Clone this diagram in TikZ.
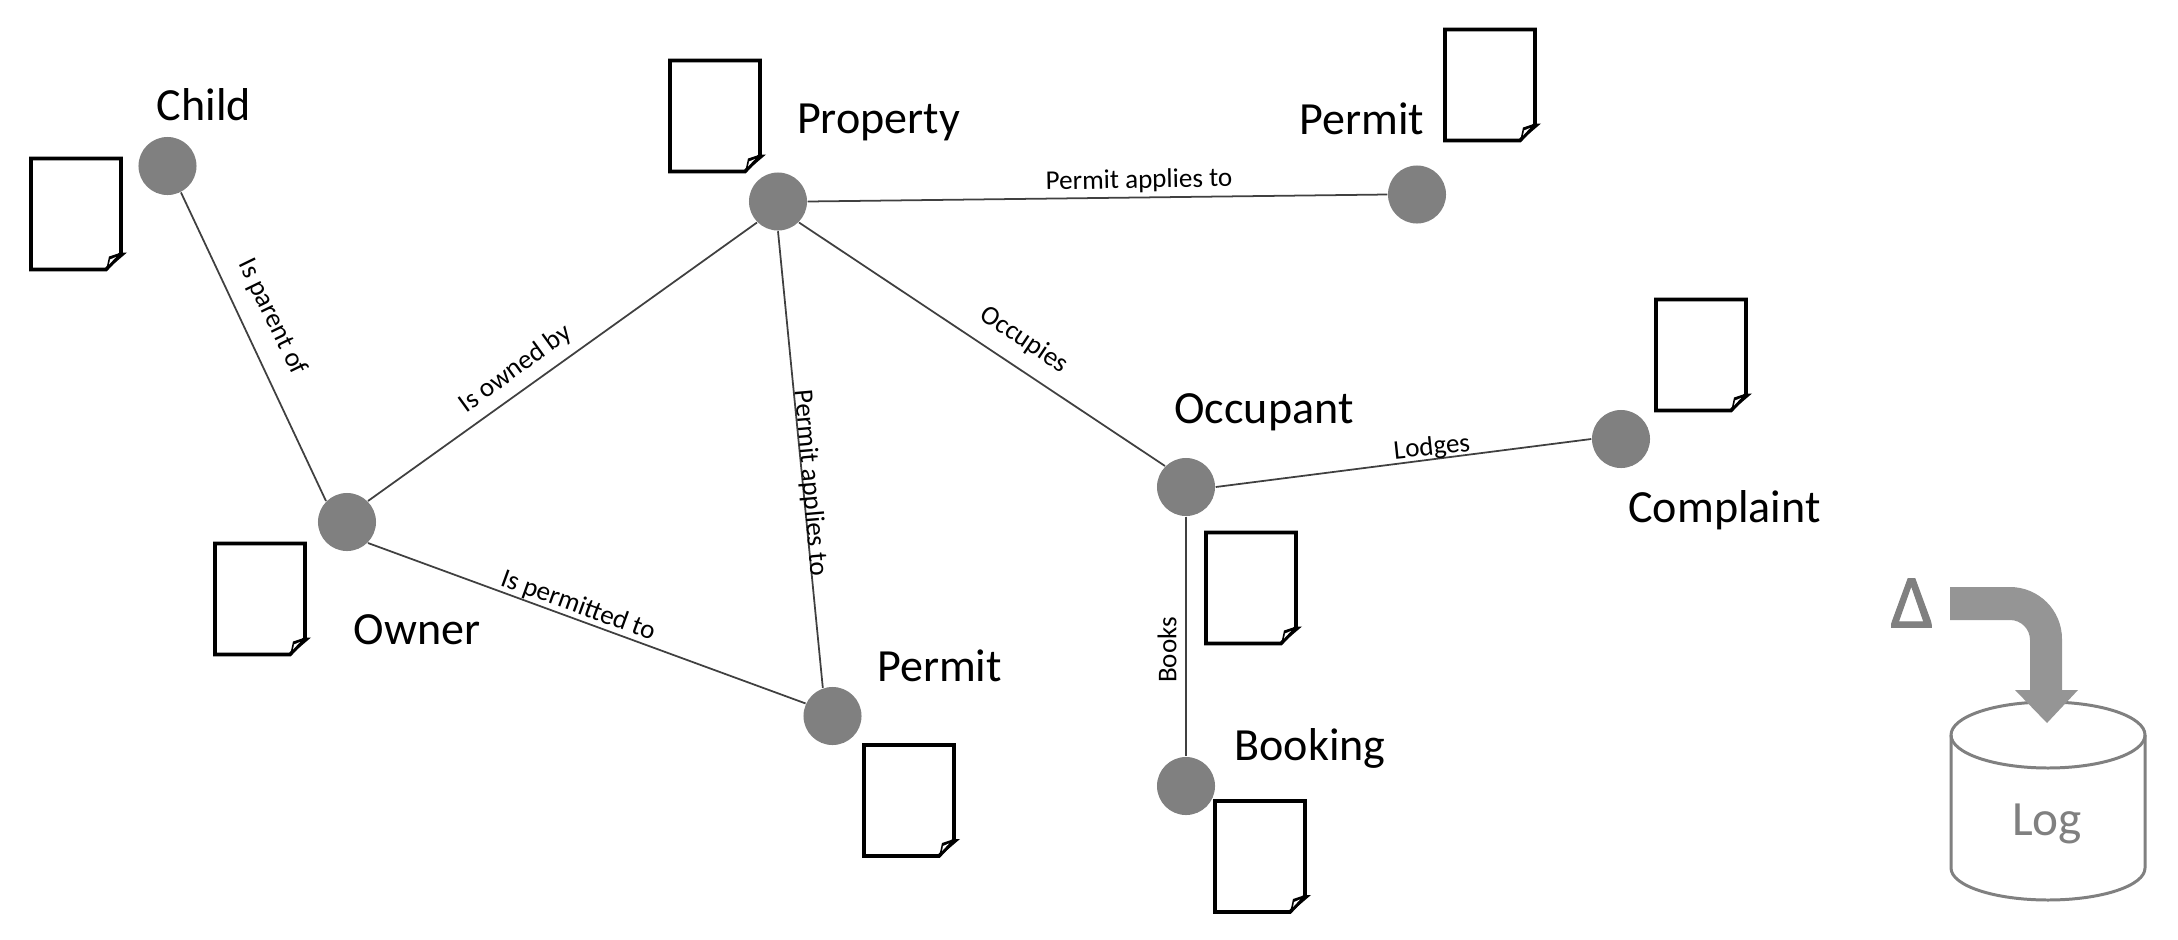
\documentclass[tikz,border=0pt]{standalone}
\usepackage{fontspec}
\setmainfont{Carlito}
\newfontfamily\deltafont[FakeBold=1.4]{Carlito}
\definecolor{nodegray}{HTML}{808080}
\definecolor{edgegray}{HTML}{404040}
\definecolor{arrowgray}{HTML}{959595}
\tikzset{
  ent/.style={circle,fill=nodegray,inner sep=0pt,minimum size=0.58cm},
  link/.style={draw=edgegray,line width=0.5pt},
  biglabel/.style={font=\fontsize{13.1}{15}\selectfont,text=black,inner sep=0pt,text height=9pt,text depth=0pt},
  edgelabel/.style={font=\fontsize{7.7}{9}\selectfont,text=black,inner sep=0pt},
  docline/.style={line width=1.05pt,draw=black,line join=miter,fill=white},
  pics/docicon/.style={code={
    \path[docline] (0,0) -- (90,0) -- (90,95) -- (75,111) -- (0,111) -- cycle;
    \path[fill=black] (75,112) -- (96,94) -- (90,94) -- (78,98) -- cycle;
    \path[fill=white] (78,106) -- (79,101) -- (85,98.5) -- cycle;
  }}
}
\begin{document}
\begin{tikzpicture}[x=0.01cm,y=-0.01cm]
\useasboundingbox (0,0) rectangle (2178,939);
% documents
\pic at (31,158.5) {docicon};
\pic at (670,60.5) {docicon};
\pic at (1445,29.5) {docicon};
\pic at (215,543.5) {docicon};
\pic at (1206,532.5) {docicon};
\pic at (1656,299.5) {docicon};
\pic at (864,745) {docicon};
\pic at (1215,801) {docicon};
% entities
\node[ent] (child) at (167.5,166) {};
\node[ent] (property) at (778,201.5) {};
\node[ent] (permitA) at (1417,194.5) {};
\node[ent] (owner) at (347,522) {};
\node[ent] (permitB) at (832.5,716) {};
\node[ent] (occupant) at (1186,487) {};
\node[ent] (complaint) at (1621,439) {};
\node[ent] (booking) at (1186,786) {};
% connectors
\draw[link] (child.-63) -- (owner.135);
\draw[link] (owner.45) -- (property.225);
\draw[link] (owner.-45) -- (permitB.155);
\draw[link] (property.-90) -- (permitB.109);
\draw[link] (property.0) -- (permitA.180);
\draw[link] (property.-45) -- (occupant.135);
\draw[link] (occupant.0) -- (complaint.180);
\draw[link] (occupant.-90) -- (booking.90);
% entity labels
\node[biglabel] (lchild) at (204,105) {Child};
\node[biglabel] (lprop) at (878.5,118) {Property};
\node[biglabel] (lperma) at (1362,119) {Permit};
\node[biglabel] (locc) at (1264,408) {Occupant};
\node[biglabel] (lcomp) at (1724.5,507) {Complaint};
\node[biglabel] (lowner) at (417,628.5) {Owner};
\node[biglabel] (lpermb) at (939.5,666) {Permit};
\node[biglabel] (lbook) at (1310,745) {Booking};
% connector labels
\node[edgelabel,rotate=1] (e1) at (1139,181) {Permit applies to};
\node[edgelabel,rotate=-64] (e2) at (272,317) {Is parent of};
\node[edgelabel,rotate=36] (e3) at (515.5,369) {Is owned by};
\node[edgelabel,rotate=-20] (e4) at (578,606) {Is permitted to};
\node[edgelabel,rotate=-85] (e5) at (810,483) {Permit applies to};
\node[edgelabel,rotate=-34] (e6) at (1024,340) {Occupies};
\node[edgelabel,rotate=6] (e7) at (1432,448) {Lodges};
\node[edgelabel,rotate=90] (e8) at (1167,650) {Books};
% log
\draw[nodegray,line width=0.85pt,fill=white] (1951,735) -- (1951,868) arc[start angle=180,end angle=0,x radius=97,y radius=32] -- (2145,735);
\draw[nodegray,line width=0.85pt] (2048,735) ellipse[x radius=97,y radius=33];
\node[font=\fontsize{14}{15}\selectfont,text=nodegray,inner sep=0pt] (log) at (2047,824) {Log};
\node[font=\deltafont\fontsize{21.5}{24}\selectfont,text=nodegray,inner sep=0pt] (delta) at (1912,603) {Δ};
\fill[arrowgray] (1950,587) -- (2010,587) arc[start angle=-90,end angle=0,radius=52] -- (2062,690) -- (2078,690) -- (2047,723) -- (2015,690) -- (2030,690) -- (2030,640) arc[start angle=0,end angle=-90,radius=20] -- (1950,620) -- cycle;
\end{tikzpicture}
\end{document}
